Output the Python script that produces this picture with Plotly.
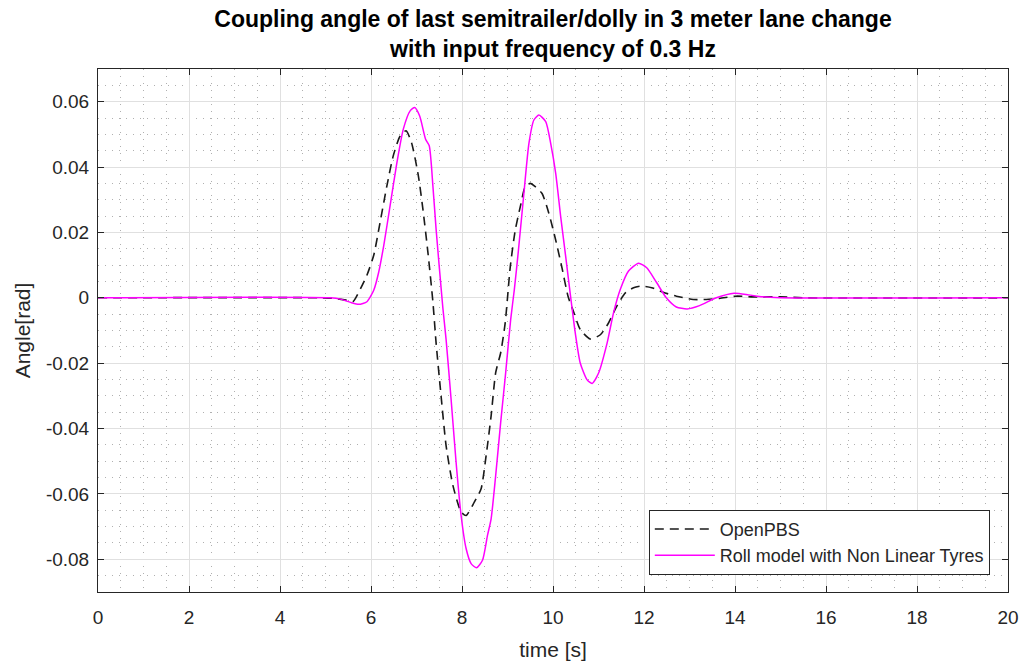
import plotly.graph_objects as go

# Time samples (s) and coupling angle (rad) for the OpenPBS reference model
t_openpbs = [0, 4.9, 5.2, 5.45, 5.6, 5.77, 5.91, 6.06, 6.2, 6.35, 6.49, 6.64, 6.77,
             6.89, 7.04, 7.14, 7.25, 7.36, 7.43, 7.54, 7.65, 7.8, 7.98, 8.09, 8.27,
             8.42, 8.53, 8.64, 8.74, 8.85, 8.95, 9.06, 9.17, 9.28, 9.39, 9.5, 9.61,
             9.76, 9.91, 10.06, 10.2, 10.33, 10.46, 10.6, 10.82, 11.04, 11.22, 11.4,
             11.59, 11.77, 11.95, 12.17, 12.42, 12.71, 13.08, 13.37, 13.66, 14.02,
             14.39, 15.0, 15.5, 20]
angle_openpbs = [0, 0, -0.0002, -0.0007, -0.0012, 0.0028, 0.0069, 0.013, 0.0231, 0.0343,
                 0.0435, 0.0495, 0.0511, 0.0475, 0.0374, 0.0272, 0.014, -0.0012, -0.0137,
                 -0.03, -0.0452, -0.0574, -0.0655, -0.0666, -0.0625, -0.0584, -0.0483,
                 -0.0361, -0.0229, -0.0168, -0.0076, 0.0094, 0.0207, 0.0278, 0.034, 0.035,
                 0.034, 0.0319, 0.0258, 0.0176, 0.009, 0.0005, -0.0046, -0.0097, -0.0126,
                 -0.0113, -0.0077, -0.0026, 0.0015, 0.0031, 0.0036, 0.0031, 0.0017, 0.0005,
                 -0.0005, -0.0005, -0.0002, 0.0005, 0.0003, 0.0003, 0, 0]

# Time samples (s) and coupling angle (rad) for the roll model with non linear tyres
t_roll = [0, 5.1, 5.33, 5.55, 5.73, 5.91, 6.06, 6.17, 6.28, 6.42, 6.57, 6.71, 6.86,
          6.96, 7.07, 7.2, 7.28, 7.36, 7.43, 7.51, 7.58, 7.65, 7.76, 7.87, 7.98, 8.09,
          8.2, 8.32, 8.45, 8.56, 8.64, 8.74, 8.85, 8.96, 9.07, 9.15, 9.24, 9.36, 9.47,
          9.58, 9.69, 9.84, 9.95, 10.06, 10.17, 10.28, 10.39, 10.49, 10.6, 10.75,
          10.86, 11.0, 11.19, 11.33, 11.48, 11.66, 11.88, 12.06, 12.28, 12.49, 12.71,
          12.95, 13.22, 13.59, 13.98, 14.3, 14.6, 15.0, 20]
angle_roll = [0, 0, -0.0004, -0.0014, -0.002, -0.0012, 0.0023, 0.0079, 0.016, 0.0282,
              0.0414, 0.0516, 0.0572, 0.0582, 0.0556, 0.0485, 0.0465, 0.0343, 0.0211,
              0.0079, -0.0032, -0.0127, -0.031, -0.0503, -0.0666, -0.0767, -0.0813,
              -0.0826, -0.0803, -0.0727, -0.0676, -0.0544, -0.0381, -0.0229, -0.0066,
              0.0025, 0.0145, 0.0319, 0.0472, 0.0544, 0.0559, 0.0539, 0.0472, 0.038,
              0.0247, 0.0125, 0.0, -0.0108, -0.02, -0.0251, -0.0262, -0.0231, -0.0138,
              -0.0046, 0.0026, 0.0082, 0.0106, 0.0092, 0.0046, 0.0, -0.0028, -0.0034,
              -0.0024, 0, 0.0014, 0.0009, 0.0003, 0, 0]

x_tick_vals = [0, 2, 4, 6, 8, 10, 12, 14, 16, 18, 20]
y_tick_vals = [-0.08, -0.06, -0.04, -0.02, 0, 0.02, 0.04, 0.06]
y_tick_text = ["-0.08", "-0.06", "-0.04", "-0.02", "0", "0.02", "0.04", "0.06"]

FONT = "Liberation Sans, Arial, Helvetica, sans-serif"
AXIS_COLOR = "#262626"

fig = go.Figure()
fig.add_trace(go.Scatter(
    x=t_openpbs, y=angle_openpbs, mode="lines", name="OpenPBS",
    line=dict(color="#1a1a1a", width=1.6, dash="9px,6px", shape="spline", smoothing=0.6),
))
fig.add_trace(go.Scatter(
    x=t_roll, y=angle_roll, mode="lines", name="Roll model with Non Linear Tyres",
    line=dict(color="#ff00ff", width=1.5, shape="spline", smoothing=0.6),
))

axis_common = dict(
    showline=True, linecolor=AXIS_COLOR, linewidth=1, mirror="ticks",
    ticks="inside", ticklen=6, tickcolor=AXIS_COLOR, tickwidth=1,
    showgrid=True, gridcolor="#e0e0e0", gridwidth=1,
    zeroline=False, automargin=False,
    tickfont=dict(family=FONT, size=19, color=AXIS_COLOR),
)
minor_grid = dict(showgrid=True, gridcolor="#b0b0b0", griddash="1px,6px",
                  gridwidth=1, ticks="")

fig.update_xaxes(
    **axis_common,
    range=[0, 20], tickvals=x_tick_vals, ticklabelstandoff=8,
    minor=dict(dtick=0.5, tick0=0, **minor_grid),
    title=dict(text="time [s]", font=dict(family=FONT, size=21, color=AXIS_COLOR),
               standoff=15),
)
fig.update_yaxes(
    **axis_common,
    range=[-0.09, 0.07], tickvals=y_tick_vals, ticktext=y_tick_text,
    ticklabelstandoff=4,
    minor=dict(dtick=0.005, tick0=0, **minor_grid),
    title=dict(text="Angle[rad]", font=dict(family=FONT, size=21, color=AXIS_COLOR),
               standoff=9),
)

fig.update_layout(
    width=1021, height=661,
    margin=dict(l=98, r=13, t=69, b=69),
    paper_bgcolor="white", plot_bgcolor="white",
    title=dict(
        text="<b>Coupling angle of last semitrailer/dolly in 3 meter lane change<br>"
             "with input frequency of 0.3 Hz</b>",
        x=(98 + 1008) / 2 / 1021, xanchor="center",
        y=1 - 27 / 661, yref="container", yanchor="middle",
        font=dict(family=FONT, size=23, color="black"),
    ),
    legend=dict(
        x=0.98, xanchor="right", y=0.033, yanchor="bottom",
        bgcolor="white", bordercolor=AXIS_COLOR, borderwidth=1,
        font=dict(family=FONT, size=18, color=AXIS_COLOR),
        itemwidth=60, tracegroupgap=0,
    ),
    showlegend=True,
)

fig.write_html("out.html")
